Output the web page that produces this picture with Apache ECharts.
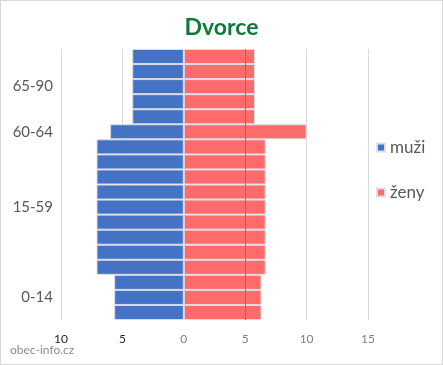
<!DOCTYPE html>
<html><head><meta charset="utf-8">
<script src="https://cdn.jsdelivr.net/npm/echarts@6/dist/echarts.min.js"></script>
<style>
html,body{margin:0;padding:0;background:#fff;}
#c{width:443px;height:365px;box-sizing:border-box;border:1px solid #d9d9d9;}
</style></head>
<body><div id="c"></div>
<script>
const ageGroups = ['0-4','5-9','10-14','15-19','20-24','25-29','30-34','35-39','40-44','45-49','50-54','55-59','60-64','65-69','70-74','75-79','80-84','85-89'];
const yLabels = ['', '0-14', '', '', '', '', '', '15-59', '', '', '', '', '60-64', '', '', '65-90', '', ''];
const maleValues = [5.67,5.67,5.67,7.11,7.11,7.11,7.11,7.11,7.11,7.11,7.11,7.11,6,4.2,4.2,4.2,4.2,4.2];
const femaleValues = [6.33,6.33,6.33,6.67,6.67,6.67,6.67,6.67,6.67,6.67,6.67,6.67,10,5.8,5.8,5.8,5.8,5.8];
const seriesNames = ['muži','ženy'];
const titleText = 'Dvorce';
const sourceText = 'obec-info.cz';

const chart = echarts.init(document.getElementById('c'), null, {renderer:'canvas'});
const font = 'Lato, "Open Sans", sans-serif';
chart.setOption({
  animation:false,
  title:{text:titleText,left:'center',top:10,textStyle:{color:'#0e7a3a',fontSize:23,fontWeight:'bold',fontFamily:font}},
  graphic:[{type:'text',left:9,top:343,style:{text:sourceText,fill:'#8c8c8c',fontSize:12,fontFamily:font}}],
  legend:{orient:'vertical',left:375,top:138,padding:0,itemGap:28,itemWidth:8,itemHeight:8,icon:'rect',
    textStyle:{color:'#595959',fontSize:17,fontFamily:font},data:seriesNames},
  grid:{left:60,right:74,top:48,bottom:44,containLabel:false},
  xAxis:{type:'value',min:-10,max:15,interval:5,
    axisLine:{show:false},axisTick:{show:false},
    splitLine:{show:true,lineStyle:{color:'#d9d9d9',width:1}},
    axisLabel:{margin:13,fontSize:12,fontFamily:font,formatter:v=>Math.abs(v),
      color:v=>(v<0?'#262626':'#808080')}},
  yAxis:{type:'category',data:ageGroups,
    axisLine:{show:false},axisTick:{show:false},
    axisLabel:{interval:0,margin:8,fontSize:15,fontFamily:font,color:'#595959',formatter:(v,i)=>yLabels[i]}},
  series:[
    {name:seriesNames[0],type:'bar',stack:'p',barCategoryGap:'0%',
      itemStyle:{color:'#4472c4',borderColor:'#dcdde6',borderWidth:1},
      data:maleValues.map(v=>-v)},
    {name:seriesNames[1],type:'bar',stack:'p',barCategoryGap:'0%',
      itemStyle:{color:'#ff6b6b',borderColor:'#dcdde6',borderWidth:1},
      data:femaleValues,
      markLine:{silent:true,symbol:'none',label:{show:false},lineStyle:{color:'#d95454',width:1,type:'solid'},data:[{xAxis:5}]}}
  ]
});
</script></body></html>
